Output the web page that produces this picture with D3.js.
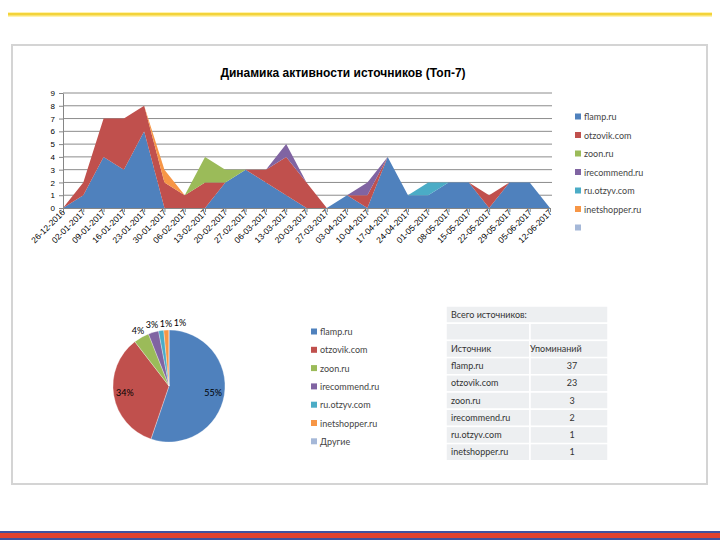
<!DOCTYPE html>
<html>
<head>
<meta charset="utf-8">
<script src="https://cdn.jsdelivr.net/npm/d3@7"></script>
<style>
  body { margin: 0; background: #fff; }
  svg { display: block; font-family: Lato, "Liberation Sans", sans-serif; }
</style>
</head>
<body>
<svg class="slide" width="720" height="540"></svg>
<script>
const dates = ["26-12-2016","02-01-2017","09-01-2017","16-01-2017","23-01-2017","30-01-2017","06-02-2017","13-02-2017","20-02-2017","27-02-2017","06-03-2017","13-03-2017","20-03-2017","27-03-2017","03-04-2017","10-04-2017","17-04-2017","24-04-2017","01-05-2017","08-05-2017","15-05-2017","22-05-2017","29-05-2017","05-06-2017","12-06-2017"];
const sources = ["flamp.ru","otzovik.com","zoon.ru","irecommend.ru","ru.otzyv.com","inetshopper.ru","Другие"];
const colors = ["#4F81BD","#C0504D","#9BBB59","#8064A2","#4BACC6","#F79646","#A5B8D8"];
const flamp       = [0,1,4,3,6,0,0,0,2,3,2,1,0,0,1,0,4,1,1,2,2,0,2,2,0];
const otzovik     = [0,1,3,4,2,2,1,2,0,0,1,3,2,0,0,1,0,0,0,0,0,1,0,0,0];
const zoon        = [0,0,0,0,0,0,0,2,1,0,0,0,0,0,0,0,0,0,0,0,0,0,0,0,0];
const irecommend  = [0,0,0,0,0,0,0,0,0,0,0,1,0,0,0,1,0,0,0,0,0,0,0,0,0];
const ruOtzyv     = [0,0,0,0,0,0,0,0,0,0,0,0,0,0,0,0,0,0,1,0,0,0,0,0,0];
const inetshopper = [0,0,0,0,0,1,0,0,0,0,0,0,0,0,0,0,0,0,0,0,0,0,0,0,0];
const yTicks = [0,1,2,3,4,5,6,7,8,9];
const tableSources = ["flamp.ru","otzovik.com","zoon.ru","irecommend.ru","ru.otzyv.com","inetshopper.ru"];
const mentions = [37,23,3,2,1,1];
const otherMentions = 0;

const svg = d3.select(".slide");

// slide decoration
svg.append("rect").attr("x", 8).attr("y", 12).attr("width", 704).attr("height", 5).attr("fill", "#FFF3B0");
svg.append("rect").attr("x", 8).attr("y", 13).attr("width", 704).attr("height", 2.5).attr("fill", "#F3D33A");
svg.append("rect").attr("x", 12).attr("y", 45).attr("width", 695).attr("height", 439)
   .attr("fill", "#fff").attr("stroke", "#D4D4D4").attr("stroke-width", 2);
svg.append("rect").attr("x", 0).attr("y", 531).attr("width", 720).attr("height", 9).attr("fill", "#3F51A0");
svg.append("rect").attr("x", 0).attr("y", 533).attr("width", 720).attr("height", 5).attr("fill", "#E2412F");

// area chart
const x = d3.scalePoint().domain(dates).range([63, 550]);
const y = d3.scaleLinear().domain([0, 9]).range([208, 93]);

svg.append("text").attr("x", 343).attr("y", 77).attr("text-anchor", "middle")
   .attr("font-family", "'Liberation Sans', Arial, sans-serif").attr("font-weight", "bold")
   .attr("font-size", 12).attr("fill", "#000").text("Динамика активности источников (Топ-7)");

const series = [flamp, otzovik, zoon, irecommend, ruOtzyv, inetshopper];
const rows = dates.map((d, i) => {
  const r = { date: d };
  series.forEach((s, k) => r[sources[k]] = s[i]);
  return r;
});
const stacked = d3.stack().keys(sources.slice(0, 6))(rows);

const grid = svg.append("g");
grid.selectAll("line").data(yTicks.slice(1)).enter().append("line")
    .attr("x1", 63).attr("x2", 552).attr("y1", d => y(d)).attr("y2", d => y(d))
    .attr("stroke", "#8C8C8C").attr("stroke-width", 1);

const area = d3.area().x(d => x(d.data.date)).y0(d => y(d[0])).y1(d => y(d[1]));
svg.append("g").selectAll("path").data(stacked).enter().append("path")
   .attr("d", area).attr("fill", (d, i) => colors[i]);

const yAxis = svg.append("g").attr("transform", "translate(63,0)")
   .call(d3.axisLeft(y).tickValues(yTicks).tickSize(4).tickSizeOuter(0));
yAxis.select(".domain").attr("stroke", "#868686");
yAxis.selectAll(".tick line").attr("stroke", "#868686");
yAxis.selectAll("text").attr("font-size", 8).attr("fill", "#000").attr("x", -8);

const xAxis = svg.append("g").attr("transform", "translate(0,208)")
   .call(d3.axisBottom(x).tickSize(4).tickSizeOuter(0));
xAxis.select(".domain").attr("stroke", "#868686");
xAxis.selectAll(".tick line").attr("stroke", "#868686");
xAxis.selectAll("text").attr("font-size", 8.5).attr("fill", "#000")
     .attr("text-anchor", "end").attr("dy", 0).attr("y", 5).attr("x", -2)
     .attr("transform", "rotate(-45)");

const legend = svg.append("g").selectAll("g").data(sources).enter().append("g")
   .attr("transform", (d, i) => `translate(575,${117 + i * 18.5})`);
legend.append("rect").attr("x", 0).attr("y", -3.5).attr("width", 6).attr("height", 6).attr("fill", (d, i) => colors[i]);
legend.filter((d, i) => i < 6).append("text").attr("x", 9).attr("y", 3).attr("font-size", 9).attr("fill", "#454545").text(d => d);

// pie chart
const pieValues = mentions.concat([otherMentions]);
const total = d3.sum(pieValues);
const cx = 169, cy = 386, r = 56;
const arcs = d3.pie().sort(null)(pieValues);
const pieG = svg.append("g").attr("transform", `translate(${cx},${cy})`);
pieG.selectAll("path").data(arcs).enter().append("path")
    .attr("d", d3.arc().innerRadius(0).outerRadius(r))
    .attr("fill", (d, i) => colors[i]).attr("stroke", "#fff").attr("stroke-width", 0.3);

let lastX = -1e9;
arcs.forEach((a, i) => {
  if (a.value === 0) return;
  const mid = (a.startAngle + a.endAngle) / 2;
  const big = a.value / total > 0.2;
  const rr = big ? r * 0.8 : r + 7;
  let lx = Math.sin(mid) * rr, ly = -Math.cos(mid) * rr;
  if (!big) { if (lx < lastX + 14) lx = lastX + 14; lastX = lx; }
  pieG.append("text").attr("x", lx).attr("y", ly + 3).attr("text-anchor", "middle")
      .attr("font-size", 9).attr("fill", "#000")
      .text(Math.round(a.value / total * 100) + "%");
});

const pieLegend = svg.append("g").selectAll("g").data(sources).enter().append("g")
   .attr("transform", (d, i) => `translate(311,${332 + i * 18.3})`);
pieLegend.append("rect").attr("x", 0).attr("y", -3.5).attr("width", 6).attr("height", 6).attr("fill", (d, i) => colors[i]);
pieLegend.append("text").attr("x", 9).attr("y", 3).attr("font-size", 9).attr("fill", "#454545").text(d => d);

// table
const tx = 446, tw = 162, rh = 17.2, ty = 306, split = 530;
const table = svg.append("g");
const tableRows = [["Всего источников:", null], ["", ""], ["Источник", "Упоминаний"]]
  .concat(tableSources.map((s, i) => [s, String(mentions[i])]));
tableRows.forEach((row, k) => {
  const ry = ty + k * rh;
  if (row[1] === null) {
    table.append("rect").attr("x", tx).attr("y", ry).attr("width", tw).attr("height", rh)
         .attr("fill", "#EDEFF1").attr("stroke", "#fff").attr("stroke-width", 1.5);
  } else {
    table.append("rect").attr("x", tx).attr("y", ry).attr("width", split - tx).attr("height", rh)
         .attr("fill", "#EDEFF1").attr("stroke", "#fff").attr("stroke-width", 1.5);
    table.append("rect").attr("x", split).attr("y", ry).attr("width", tx + tw - split).attr("height", rh)
         .attr("fill", "#EDEFF1").attr("stroke", "#fff").attr("stroke-width", 1.5);
  }
  table.append("text").attr("x", tx + 5).attr("y", ry + rh / 2 + 3).attr("font-size", 9)
       .attr("fill", "#333").text(row[0]);
  if (row[1]) {
    const isHead = k === 2;
    table.append("text").attr("x", isHead ? split : 572).attr("y", ry + rh / 2 + 3)
         .attr("text-anchor", isHead ? "start" : "middle").attr("font-size", 9)
         .attr("fill", "#333").text(row[1]);
  }
});
</script>
</body>
</html>
